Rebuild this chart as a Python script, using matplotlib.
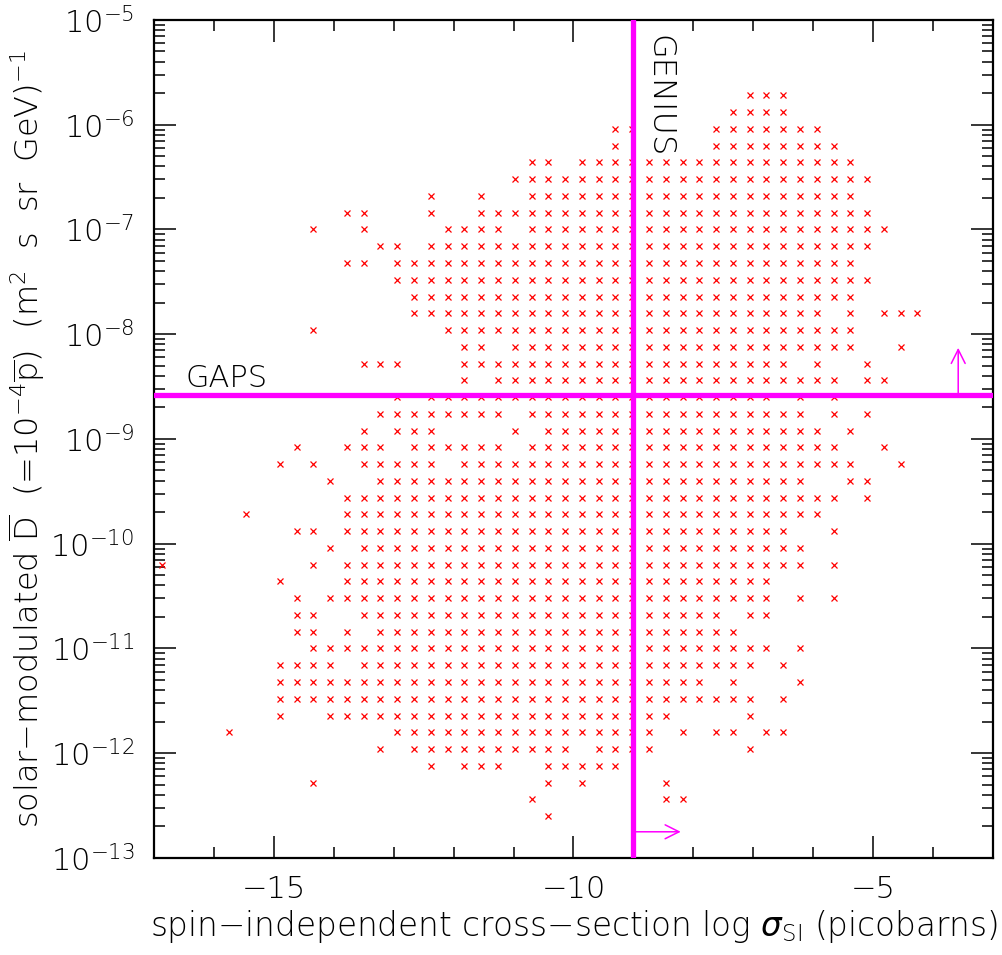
import matplotlib
matplotlib.use("Agg")
import matplotlib.pyplot as plt
from matplotlib.ticker import MultipleLocator, LogLocator, NullFormatter
import numpy as np

plt.rcParams["font.family"] = ["DejaVu Sans"]
plt.rcParams["font.weight"] = 200
plt.rcParams["axes.labelweight"] = 200
plt.rcParams["mathtext.fontset"] = "custom"
plt.rcParams["mathtext.rm"] = "DejaVu Sans:weight=200"
plt.rcParams["mathtext.it"] = "DejaVu Sans:italic"

# model scan, binned on a 50x50 grid over the plot window
# (log sigma_SI from -17 to -3, log flux from -13 to -5)
N_BINS = 50
LOG_SIGMA_RANGE = (-17.0, -3.0)
LOG_FLUX_RANGE = (-13.0, -5.0)

# occupied bins: flux row -> list of sigma columns
SCAN_CELLS = {
    45: [35, 36, 37],
    44: [34, 35, 36, 37],
    43: [27, 28, *range(33, 40)],
    42: [27, *range(33, 41)],
    41: [22, 23, *range(25, 42)],
    40: [*range(21, 43)],
    39: [16, 19, *range(22, 42)],
    38: [11, 12, 16, *range(19, 43)],
    37: [9, 12, *range(17, 21), *range(22, 44)],
    36: [13, 14, *range(16, 43)],
    35: [11, 12, *range(14, 42)],
    34: [*range(14, 43)],
    33: [*range(15, 42)],
    32: [*range(15, 40), 41, 43, 44, 45],
    31: [9, *range(17, 42)],
    30: [18, 19, *range(21, 42), 44],
    29: [12, 13, 14, *range(18, 38), 39, 42],
    28: [18, *range(20, 41), 42, 43],
    27: [14, *range(16, 37), 38, 40],
    26: [*range(13, 21), *range(22, 39), 40, 42],
    25: [12, 14, 15, 16, 21, *range(23, 40), 41],
    24: [8, 11, 12, 13, *range(15, 21), *range(22, 41), 43],
    23: [7, 9, *range(12, 17), *range(18, 42), 44],
    22: [10, *range(13, 39), 41, 42],
    21: [*range(11, 41), 42],
    20: [5, *range(11, 40)],
    19: [8, 9, *range(11, 38), 40],
    18: [10, *range(12, 39)],
    17: [0, 9, *range(11, 39), 40],
    16: [7, *range(11, 37)],
    15: [8, *range(10, 37), 38, 40],
    14: [8, 9, *range(12, 34), 35, 36],
    13: [8, 9, 11, *range(13, 35)],
    12: [*range(9, 37), 38],
    11: [*range(7, 11), *range(12, 36), 37],
    10: [*range(7, 33), 34, 38],
    9: [*range(7, 36), 37],
    8: [7, *range(10, 31), 35],
    7: [4, *range(14, 30), 31, 33, 34, 36, 37],
    6: [13, *range(15, 25), *range(26, 30), 35],
    5: [16, 18, 19, 20, *range(23, 28)],
    4: [9, 23, 25, 30],
    3: [22, 30, 31],
    2: [23],
}

# experimental sensitivities
GENIUS_LOG_SIGMA = -9.0
GAPS_FLUX = 2.6e-9


def bin_centres(lo, hi):
    step = (hi - lo) / N_BINS
    return lo + step * (np.arange(N_BINS) + 0.5)


sig_c = bin_centres(*LOG_SIGMA_RANGE)
flux_c = bin_centres(*LOG_FLUX_RANGE)

xs, ys = [], []
for row, cols in SCAN_CELLS.items():
    for c in cols:
        xs.append(sig_c[c])
        ys.append(10 ** flux_c[row])

fig = plt.figure(figsize=(10.03, 9.55), dpi=100)
ax = fig.add_axes([0.1535, 0.1016, 0.8365, 0.8775])

ax.plot(xs, ys, linestyle="none", marker="x", color="#ff0000",
        markersize=5, markeredgewidth=0.9, zorder=2)

magenta = "#ff00ff"
ax.axvline(GENIUS_LOG_SIGMA, color=magenta, lw=3.8, zorder=3)
ax.axhline(GAPS_FLUX, color=magenta, lw=3.8, zorder=3)

ax.annotate("", xy=(-8.21, 10 ** -12.75), xytext=(GENIUS_LOG_SIGMA, 10 ** -12.75),
            arrowprops=dict(arrowstyle="->", color=magenta, lw=1.1,
                            mutation_scale=25, shrinkA=0, shrinkB=0), zorder=4)
ax.annotate("", xy=(-3.58, 10 ** -8.13), xytext=(-3.58, GAPS_FLUX),
            arrowprops=dict(arrowstyle="->", color=magenta, lw=1.1,
                            mutation_scale=25, shrinkA=0, shrinkB=0), zorder=4)

ax.text(-8.82, 10 ** -5.14, "GENIUS", rotation=270, ha="left", va="top",
        fontsize=23)
ax.text(-16.47, 10 ** -8.5, "GAPS", ha="left", va="baseline", fontsize=22)

ax.set_xlim(*LOG_SIGMA_RANGE)
ax.set_yscale("log")
ax.set_ylim(10 ** LOG_FLUX_RANGE[0], 10 ** LOG_FLUX_RANGE[1])

ax.xaxis.set_major_locator(MultipleLocator(5))
ax.xaxis.set_minor_locator(MultipleLocator(1))
ax.yaxis.set_major_locator(LogLocator(base=10, numticks=20))
ax.yaxis.set_minor_locator(LogLocator(base=10, subs=np.arange(2, 10), numticks=20))
ax.yaxis.set_minor_formatter(NullFormatter())

ax.tick_params(which="both", direction="in", top=True, right=True, width=1.1)
ax.tick_params(which="major", length=16, labelsize=22)
ax.tick_params(axis="x", which="major", pad=12)
ax.tick_params(axis="y", which="major", pad=14)
ax.tick_params(which="minor", length=8)
for s in ax.spines.values():
    s.set_linewidth(1.6)

ax.set_xlabel("spin\u2212independent cross\u2212section log $\\sigma_{\\rm SI}$ (picobarns)",
              fontsize=23.5, labelpad=3)
ax.set_ylabel("solar\u2212modulated $\\overline{\\rm D}$  (=10$^{-4}\\overline{\\rm p}$)  "
              "(m$^2$  s  sr  GeV)$^{-1}$", fontsize=23)
ax.yaxis.set_label_coords(-0.126, 0.5)

fig.savefig("out.png", dpi=100)
